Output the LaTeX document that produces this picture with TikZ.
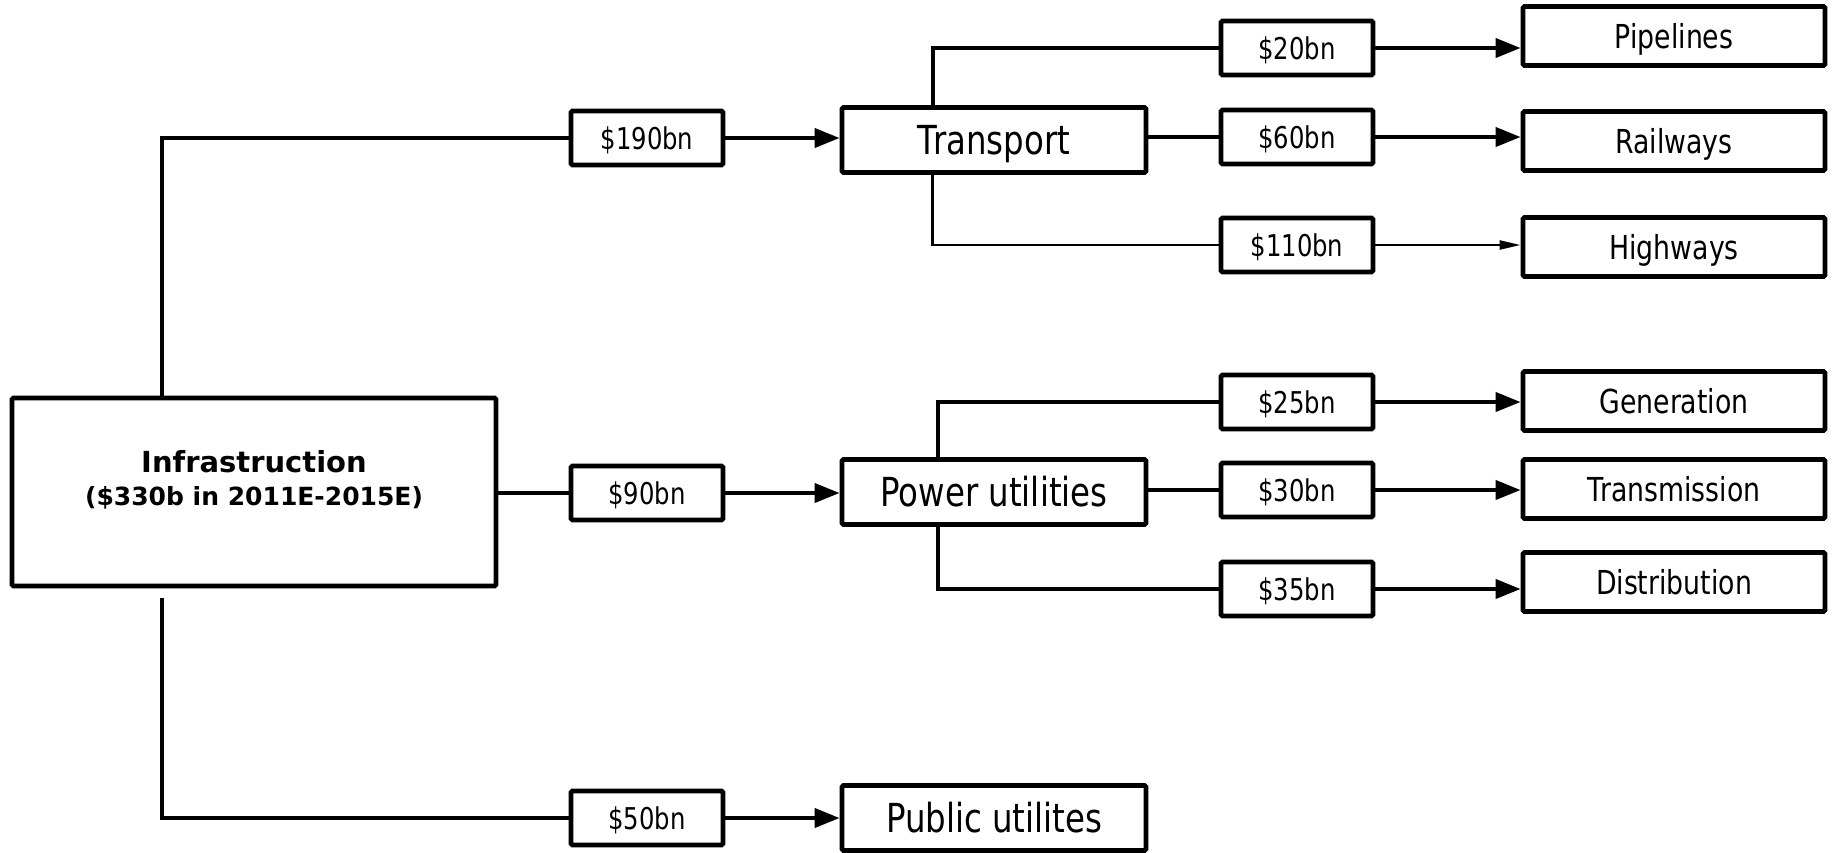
\documentclass[tikz,border=0pt]{standalone}
\usepackage{fontspec}
\usetikzlibrary{arrows.meta}
\newfontfamily\labfont[FakeStretch=0.81]{DejaVu Sans}
\newfontfamily\headfont{DejaVu Sans}

\begin{document}
\begin{tikzpicture}[x=1pt,y=-1pt,
    box/.style={draw, line width=4.8pt, rounded corners=1.5pt, inner sep=0pt, text depth=0pt},
    sumbox/.style={box, minimum width=152pt, minimum height=54pt, text height=22pt,
        font=\labfont\fontsize{30}{36}\selectfont},
    secbox/.style={box, minimum width=304pt, minimum height=65pt, text height=29pt,
        font=\labfont\fontsize{40}{46}\selectfont},
    subbox/.style={box, minimum width=302pt, minimum height=59pt, text height=24pt,
        font=\labfont\fontsize{33}{40}\selectfont},
    link/.style={line width=4pt},
    thinlink/.style={line width=2.4pt},
    arr/.style={link, -{Triangle[length=25pt,width=19pt]}},
    thinarr/.style={thinlink, -{Triangle[length=21pt,width=9pt]}}]
    \useasboundingbox (0,0) rectangle (1837,852);

    % root
    \node[draw, line width=4.8pt, rounded corners=1.5pt, minimum width=484pt, minimum height=188pt] (infra) at (254,492) {};
    \node[align=center, font=\headfont\bfseries\fontsize{25}{33}\selectfont] (infratext) at (254,480)
        {{\fontsize{29}{33}\selectfont Infrastruction}\\(\$330b in 2011E-2015E)};

    % transport branch
    \node[sumbox] (usd190) at (647,138) {\$190bn};
    \node[secbox] (transport) at (994,140) {Transport};
    \node[sumbox] (usd20) at (1297,48) {\$20bn};
    \node[sumbox] (usd60) at (1297,137) {\$60bn};
    \node[sumbox] (usd110) at (1297,245) {\$110bn};
    \node[subbox] (pipe) at (1674,36) {Pipelines};
    \node[subbox] (rail) at (1674,141) {Railways};
    \node[subbox] (high) at (1674,247) {Highways};

    % power branch
    \node[sumbox] (usd90) at (647,493) {\$90bn};
    \node[secbox] (power) at (994,492) {Power utilities};
    \node[sumbox] (usd25) at (1297,402) {\$25bn};
    \node[sumbox] (usd30) at (1297,490) {\$30bn};
    \node[sumbox] (usd35) at (1297,589) {\$35bn};
    \node[subbox] (gen) at (1674,401) {Generation};
    \node[subbox] (trans) at (1674,489) {Transmission};
    \node[subbox] (dist) at (1674,582) {Distribution};

    % public branch
    \node[sumbox] (usd50) at (647,818) {\$50bn};
    \node[secbox] (public) at (994,818) {Public utilites};

    % connectors from the root
    \draw[link] ([xshift=152pt]infra.north west) |- (usd190.west);
    \draw[link] (infra.east |- usd90.west) -- (usd90.west);
    \draw[link] ([xshift=152pt,yshift=-10pt]infra.south west) |- (usd50.west);
    \draw[arr] (usd190.east) -- (transport.west |- usd190.east);
    \draw[arr] (usd90.east) -- (power.west |- usd90.east);
    \draw[arr] (usd50.east) -- (public.west |- usd50.east);

    % transport connectors
    \draw[link] ([xshift=93pt]transport.north west) |- (usd20.west);
    \draw[link] (transport.east |- usd60.west) -- (usd60.west);
    \draw[thinlink] ([xshift=93pt]transport.south west) |- (usd110.west);
    \draw[arr] (usd20.east) -- (usd20.east -| pipe.west);
    \draw[arr] (usd60.east) -- (usd60.east -| rail.west);
    \draw[thinarr] (usd110.east) -- (usd110.east -| high.west);

    % power connectors
    \draw[link] ([xshift=98pt]power.north west) |- (usd25.west);
    \draw[link] (power.east |- usd30.west) -- (usd30.west);
    \draw[link] ([xshift=98pt]power.south west) |- (usd35.west);
    \draw[arr] (usd25.east) -- (usd25.east -| gen.west);
    \draw[arr] (usd30.east) -- (usd30.east -| trans.west);
    \draw[arr] (usd35.east) -- (usd35.east -| dist.west);
\end{tikzpicture}
\end{document}
